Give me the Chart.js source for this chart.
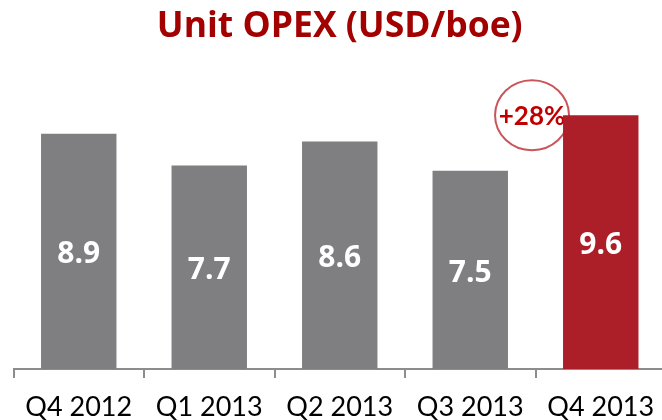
<!DOCTYPE html>
<html>
<head>
<meta charset="utf-8">
<script src="https://cdn.jsdelivr.net/npm/chart.js@4/dist/chart.umd.min.js"></script>
<style>
  html, body { margin: 0; padding: 0; background: #ffffff; overflow: hidden; }
  #wrap { width: 662px; height: 420px; overflow: hidden; position: relative; }
  canvas { display: block; }
</style>
</head>
<body>
<div id="wrap"><canvas id="c" width="680" height="420"></canvas></div>
<script>
const categories = ["Q4 2012", "Q1 2013", "Q2 2013", "Q3 2013", "Q4 2013"];
const opexValues = [8.9, 7.7, 8.6, 7.5, 9.6];
const barColors = ["#7f7f82", "#7f7f82", "#7f7f82", "#7f7f82", "#ac1e28"];
const chartTitle = "Unit OPEX (USD/boe)";
const changeLabel = "+28%";

const valueLabelPlugin = {
  id: 'valueLabels',
  beforeDatasetsDraw(chart) {
    const ctx = chart.ctx;
    const meta = chart.getDatasetMeta(0);
    const last = meta.data[meta.data.length - 1];
    const cx = last.x - last.width / 2 - 31;
    const cy = last.y;
    ctx.save();
    ctx.beginPath();
    ctx.ellipse(cx, cy, 37, 35, 0, 0, Math.PI * 2);
    ctx.fillStyle = '#ffffff';
    ctx.fill();
    ctx.lineWidth = 2;
    ctx.strokeStyle = '#c9555a';
    ctx.stroke();
    ctx.fillStyle = '#c00000';
    ctx.font = 'bold 26px Lato';
    ctx.textAlign = 'center';
    ctx.textBaseline = 'middle';
    ctx.fillText(changeLabel, cx, cy + 1);
    ctx.restore();
  },
  afterDatasetsDraw(chart) {
    const ctx = chart.ctx;
    const meta = chart.getDatasetMeta(0);
    ctx.save();
    ctx.fillStyle = '#ffffff';
    ctx.font = 'bold 30px "Open Sans"';
    ctx.textAlign = 'center';
    ctx.textBaseline = 'middle';
    meta.data.forEach((bar, i) => {
      const mid = (bar.y + bar.base) / 2;
      ctx.fillText(opexValues[i].toFixed(1), bar.x, mid + 3.5);
    });
    ctx.restore();
  }
};

new Chart(document.getElementById('c'), {
  type: 'bar',
  data: {
    labels: categories,
    datasets: [{
      data: opexValues,
      backgroundColor: barColors,
      borderWidth: 0,
      categoryPercentage: 1.0,
      barPercentage: 0.578
    }]
  },
  options: {
    responsive: false,
    animation: false,
    events: [],
    layout: { padding: { left: 13.5, right: 14, top: 0, bottom: -16 } },
    plugins: {
      legend: { display: false },
      tooltip: { enabled: false },
      title: {
        display: true,
        text: chartTitle,
        color: '#a30000',
        font: { family: 'Open Sans', size: 35.5, weight: 'bold', lineHeight: 1.2 },
        padding: { top: 6, bottom: 9.2 }
      }
    },
    scales: {
      y: {
        display: false,
        min: 0,
        max: 11.77
      },
      x: {
        offset: true,
        grid: {
          display: true,
          offset: true,
          drawOnChartArea: false,
          drawTicks: true,
          tickLength: 9,
          color: '#8c8c8c',
          lineWidth: 2
        },
        border: { display: true, color: '#8c8c8c', width: 2 },
        ticks: {
          color: '#000000',
          padding: 15.5,
          maxRotation: 0,
          font: { family: 'Lato', size: 27, lineHeight: 1.0 }
        }
      }
    }
  },
  plugins: [valueLabelPlugin]
});
</script>
</body>
</html>
